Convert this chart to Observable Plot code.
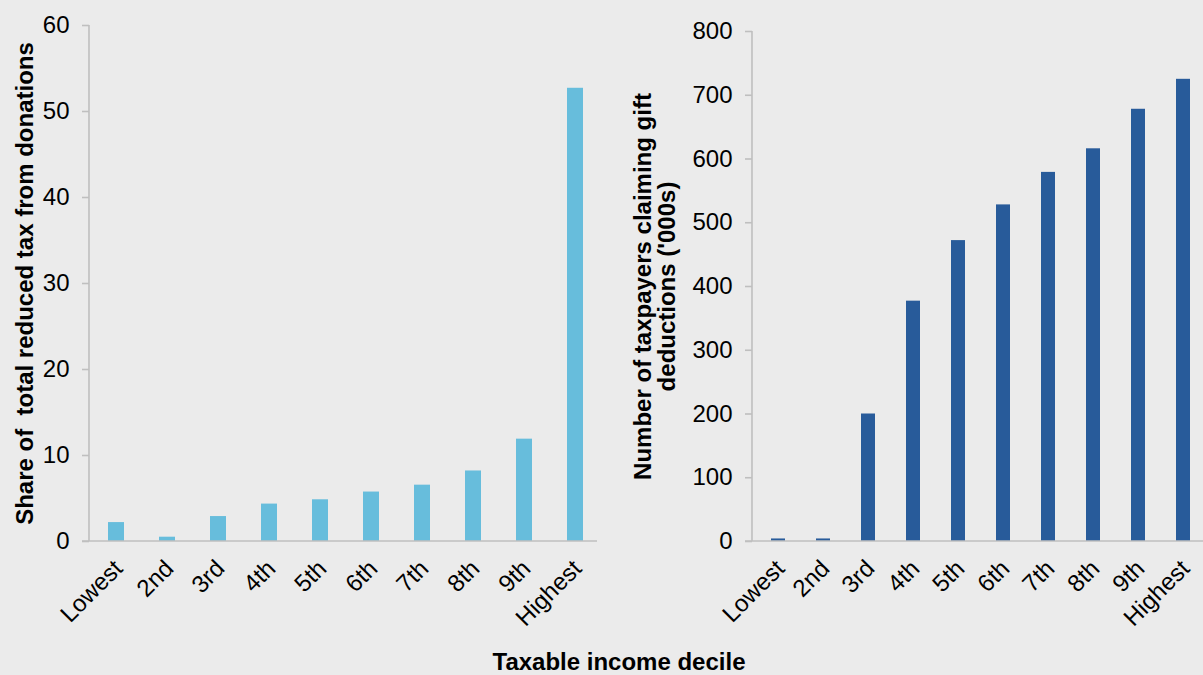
<!DOCTYPE html>
<html>
<head>
<meta charset="utf-8">
<script src="https://cdn.jsdelivr.net/npm/d3@7"></script>
<script src="https://cdn.jsdelivr.net/npm/@observablehq/plot@0.6"></script>
<style>
  html, body { margin: 0; padding: 0; background: #ebebeb; width: 1203px; height: 675px; overflow: hidden; }
  body { position: relative; font-family: "Liberation Sans", Arial, sans-serif; }
  #left, #right { position: absolute; top: 0; }
  #left { left: 0; }
  #right { left: 600px; }
  #xtitle { position: absolute; top: 650px; left: 619px; transform: translateX(-50%); font-weight: bold; font-size: 24px; line-height: 1; color: #000; white-space: nowrap; }
  svg text { white-space: pre; }
</style>
</head>
<body>
<div id="left"></div>
<div id="right"></div>
<div id="xtitle"></div>
<script>
// ---- data ----
const deciles = ["Lowest", "2nd", "3rd", "4th", "5th", "6th", "7th", "8th", "9th", "Highest"];
const shareOfReducedTax = [2.2, 0.5, 2.9, 4.35, 4.85, 5.75, 6.55, 8.2, 11.9, 52.7];
const taxpayersClaiming = [4, 4, 200, 377, 472, 528, 579, 616, 678, 725];
const leftTicks = [0, 10, 20, 30, 40, 50, 60];
const rightTicks = [0, 100, 200, 300, 400, 500, 600, 700, 800];
const leftTitle = "Share of  total reduced tax from donations";
const rightTitle = "Number of taxpayers claiming gift\ndeductions ('000s)";
const xTitle = "Taxable income decile";

const leftData = deciles.map((d, i) => ({decile: d, value: shareOfReducedTax[i]}));
const rightData = deciles.map((d, i) => ({decile: d, value: taxpayersClaiming[i]}));

const AXIS = "#bfbfbf";
const FONT = "'Liberation Sans', Arial, sans-serif";
const FS = 24;

function axisLines(extendRight) {
  return (index, scales, values, dims) => {
    const g = d3.create("svg:g").attr("stroke", AXIS).attr("stroke-width", 1.6);
    const [y0, y1] = scales.y.range();
    g.append("line")
      .attr("x1", dims.marginLeft).attr("x2", dims.marginLeft)
      .attr("y1", Math.min(y0, y1)).attr("y2", Math.max(y0, y1));
    g.append("line")
      .attr("x1", dims.marginLeft - 7).attr("x2", dims.width - dims.marginRight - extendRight)
      .attr("y1", scales.y(0)).attr("y2", scales.y(0));
    return g.node();
  };
}

function chart({data, yDomain, ticks, fill, width, marginLeft, marginTop, paddingInner, paddingOuter, title, titleDx, extendRight}) {
  return Plot.plot({
    width, height: 640,
    marginLeft, marginRight: 1, marginTop, marginBottom: 99,
    style: {background: "transparent", fontFamily: FONT, fontSize: FS + "px", color: "#000", overflow: "visible", maxWidth: "none"},
    x: {domain: deciles, paddingInner, paddingOuter, axis: null},
    y: {domain: yDomain, axis: null},
    marks: [
      Plot.barY(data, {x: "decile", y: "value", fill}),
      axisLines(extendRight),
      Plot.axisY(ticks, {anchor: "left", tickSize: 7, tickPadding: 13, stroke: AXIS, fill: "#000", strokeWidth: 1.6, fontSize: FS, label: null}),
      Plot.text(deciles, {x: d => d, frameAnchor: "bottom", rotate: -45, textAnchor: "end", lineAnchor: "middle", dx: 2, dy: 23, fontSize: FS, fill: "#000"}),
      Plot.text([title], {frameAnchor: "left", rotate: -90, dx: titleDx, fontWeight: "bold", fontSize: FS, fill: "#000", lineHeight: 1.0, textAnchor: "middle"})
    ]
  });
}

document.getElementById("left").append(chart({
  data: leftData, yDomain: [0, 60], ticks: leftTicks, fill: "#67bddc",
  width: 602, marginLeft: 89, marginTop: 25, paddingInner: 0.69, paddingOuter: 0.345,
  title: leftTitle, titleDx: -64, extendRight: 4
}));

document.getElementById("right").append(chart({
  data: rightData, yDomain: [0, 800], ticks: rightTicks, fill: "#285b9a",
  width: 610, marginLeft: 152, marginTop: 31, paddingInner: 0.68, paddingOuter: 0.34,
  title: rightTitle, titleDx: -97, extendRight: 0
}));

document.getElementById("xtitle").textContent = xTitle;
</script>
</body>
</html>
